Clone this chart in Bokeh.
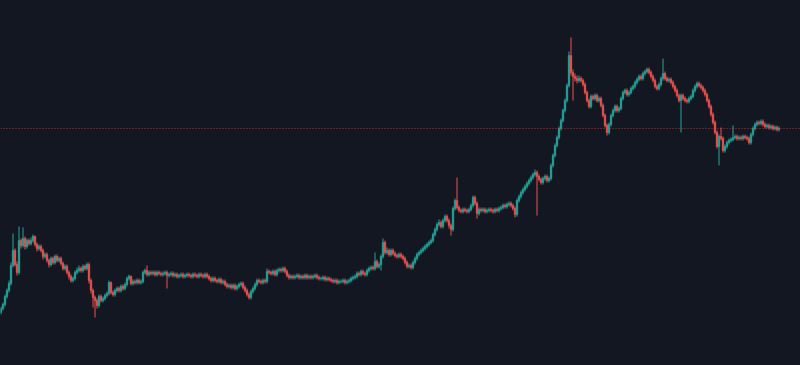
from bokeh.plotting import figure
from bokeh.models import ColumnDataSource, Span, Range1d
from bokeh.embed import file_html
from bokeh.resources import INLINE

first_open = 53

close = [
57,61,69,75,82, 100,115,101,93,125, 120,127,119,125,122, 125,129,121,117,119,
115,109,111,105,101, 107,103,109,105,107, 102,97,99,93,89, 85,87,93,95,97,
95,99,97,101,85, 75,68,65,60,69, 65,67,70,72,83, 73,71,75,77,75,
79,77,81,87,89, 82,84,83,85,83, 84,93,95,91,93, 92,93,91,93,92,
91,92,93,90,91, 92,90,91,89,90, 91,89,90,91,90, 89,91,90,89,91,
90,89,91,89,87, 85,87,85,84,86, 83,84,81,79,80, 78,80,77,79,81,
82,78,75,71,68, 74,77,81,85,84, 83,85,84,94,93, 92,94,91,95,96,
95,97,94,90,88, 89,88,89,90,88, 89,88,90,88,89, 88,89,90,88,87,
87,88,86,87,86, 85,84,85,83,84, 84,85,83,84,85, 87,88,89,92,91,
94,92,91,95,97, 98,97,104,99,101, 109,123,113,115,111, 115,112,110,109,111,
109,107,103,99,100, 98,103,107,111,113, 115,117,119,121,123, 125,131,136,141,143,
139,145,149,145,140, 136,157,165,158,155, 154,156,155,154,156, 160,168,162,152,156,
155,156,154,155,156, 155,154,156,155,157, 158,160,159,161,162, 160,157,151,165,169,
173,176,179,182,185, 188,191,193,189,186, 183,187,189,185,187, 200,210,220,228,237,
245,255,265,280,310, 293,289,287,285,287, 285,281,273,265,259, 269,267,270,265,267,
260,250,240,233,241, 250,255,259,255,257, 267,273,275,271,273, 277,279,283,286,289,
287,292,294,296,293, 289,285,279,277,281, 287,292,287,285,286, 283,279,275,270,265,
270,267,265,264,267, 269,275,279,282,280, 278,275,271,265,259, 251,243,233,219,229,
227,215,219,223,225, 226,228,229,227,228, 227,229,228,227,223, 231,237,241,243,242,
244,241,239,240,238, 239,237,238,236,237,
]

high = [
59,63,71,77,85, 103,132,117,104,139, 127,138,129,127,127, 128,131,130,123,121,
121,117,113,113,107, 109,109,111,111,109, 109,104,101,101,95, 91,89,95,98,100,
99,101,101,103,103, 87,77,70,67,71, 71,69,72,74,85, 84,75,77,79,79,
81,81,83,89,91, 90,86,86,87,87, 86,95,97,100,95, 95,95,95,95,95,
94,94,95,95,93, 94,94,93,93,92, 93,93,92,93,93, 92,93,93,92,93,
93,92,93,93,91, 89,89,89,87,88, 88,86,86,83,82, 82,82,82,81,83,
84,84,80,77,73, 76,79,83,87,87, 86,87,87,97,96, 95,96,96,97,98,
98,99,99,96,92, 91,91,91,92,92, 91,91,92,92,91, 91,91,92,92,90,
89,90,90,89,89, 88,87,87,87,86, 86,87,87,86,87, 89,90,91,94,94,
96,96,94,97,99, 100,100,113,106,103, 111,127,125,118,117, 117,117,114,112,113,
113,111,109,105,102, 102,105,109,113,115, 117,119,121,123,125, 127,133,138,143,146,
145,147,151,151,147, 142,159,167,188,160, 157,158,158,157,158, 162,170,170,164,158,
158,158,158,157,158, 158,157,158,158,159, 160,162,162,163,164, 164,162,159,167,171,
175,178,181,184,187, 190,193,196,195,191, 188,189,191,191,189, 202,212,222,230,239,
247,257,267,282,314, 328,296,292,290,290, 289,287,283,275,267, 271,271,272,272,269,
269,262,252,242,243, 252,257,261,261,259, 269,275,277,277,275, 279,281,285,288,291,
291,294,296,298,298, 295,291,287,281,283, 289,307,294,289,288, 288,285,281,277,272,
272,272,269,267,269, 271,277,281,284,284, 282,280,277,273,267, 261,253,245,235,231,
238,229,221,225,227, 228,240,231,231,230, 230,231,231,230,229, 233,239,243,245,245,
246,246,243,242,242, 241,241,240,240,239,
]

low = [
51,55,59,67,73, 80,98,99,90,91, 117,118,116,117,120, 120,123,119,114,115,
113,106,107,103,98, 99,101,101,103,103, 100,95,95,91,86, 83,83,85,91,93,
93,93,95,95,82, 72,58,48,57,58, 63,63,65,68,70, 71,69,69,73,73,
73,75,75,79,85, 80,80,81,81,81, 81,82,91,89,89, 90,90,89,89,90,
89,89,90,77,88, 89,88,88,87,87, 88,87,87,88,88, 87,87,88,87,87,
88,87,87,87,85, 83,83,83,82,82, 81,81,79,77,77, 76,76,75,75,77,
79,76,73,69,66, 66,72,75,79,82, 81,81,82,82,91, 90,90,89,89,93,
93,93,92,88,86, 86,86,86,87,86, 86,86,86,86,86, 86,86,87,86,85,
85,85,84,84,84, 83,82,82,81,81, 82,82,81,81,82, 83,85,86,87,89,
89,90,89,89,93, 95,95,95,97,97, 95,107,111,111,109, 109,110,108,107,107,
107,105,101,97,97, 96,96,101,105,109, 111,113,115,117,119, 121,123,129,134,139,
137,137,143,143,137, 130,134,155,156,153, 152,152,153,152,152, 154,158,160,147,150,
153,153,152,152,153, 153,152,152,153,153, 155,156,157,157,159, 158,155,148,149,163,
167,171,174,177,180, 183,186,189,150,184, 181,181,185,183,183, 185,198,208,218,226,
235,243,253,263,278, 290,265,284,282,283, 283,279,271,263,257, 257,265,265,263,263,
258,248,238,230,231, 239,248,253,253,253, 255,265,271,269,269, 271,275,277,281,284,
285,285,290,292,291, 287,283,277,275,275, 279,285,285,283,283, 281,277,273,268,263,
233,265,263,262,262, 265,267,273,277,278, 276,273,269,263,257, 249,241,231,217,200,
225,213,213,217,221, 223,224,226,225,225, 225,225,226,225,221, 221,229,235,239,240,
240,239,237,237,236, 236,235,235,234,234,
]

UP = "#26a69a"
DOWN = "#ef5350"
BG = "#131722"

n = len(close)
opens = [first_open] + close[:-1]
idx = list(range(n))
colors = [UP if c >= o else DOWN for o, c in zip(opens, close)]
tops = [max(o, c) for o, c in zip(opens, close)]
bottoms = [min(o, c) for o, c in zip(opens, close)]

src = ColumnDataSource(dict(x=idx, open=opens, close=close, high=high, low=low,
                            top=tops, bottom=bottoms, color=colors))

p = figure(width=800, height=365, output_backend="svg", toolbar_location=None,
           x_range=Range1d(-0.25, 399.75), y_range=Range1d(0, 365),
           min_border=0, min_border_left=0, min_border_right=0,
           min_border_top=0, min_border_bottom=0)
p.background_fill_color = BG
p.border_fill_color = BG
p.outline_line_color = None
p.xaxis.visible = False
p.yaxis.visible = False
p.xgrid.visible = False
p.ygrid.visible = False

p.segment(x0="x", y0="low", x1="x", y1="high", source=src,
          line_color="color", line_width=1)
p.vbar(x="x", width=0.75, top="top", bottom="bottom", source=src,
       fill_color="color", line_color="color", line_width=0.6)

last_line = Span(location=close[-1], dimension="width", line_color=DOWN,
                 line_dash="1 2", line_width=1, line_alpha=0.6)
p.add_layout(last_line)

html = file_html(p, INLINE)
html = html.replace("</head>",
                    "<style>html,body{margin:0 !important;padding:0;background:%s;overflow:hidden;}</style></head>" % BG, 1)
open("out.html", "w").write(html)
